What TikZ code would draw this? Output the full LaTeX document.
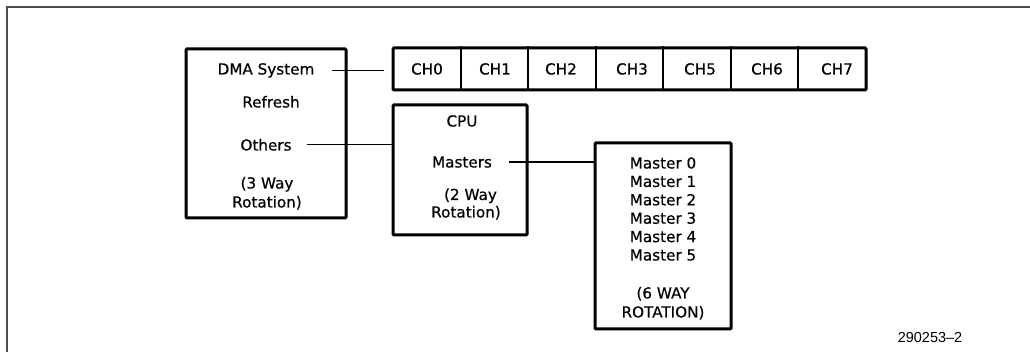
\documentclass[tikz,border=0pt]{standalone}
\usepackage{fontspec}
\setmainfont{DejaVu Sans}
\newfontfamily\diagfont[FakeBold=0.5]{DejaVu Sans}
\newfontfamily\labelfont{Liberation Sans}
\begin{document}
\begin{tikzpicture}[x=1pt,y=-1pt,
  box/.style={draw, line width=3pt, rounded corners=1pt, inner sep=0pt},
  txt/.style={font=\diagfont\fontsize{15.2}{18.5}\selectfont, inner sep=0pt, align=center, anchor=base},
  wire/.style={line width=1.2pt},
  divider/.style={line width=1.6pt},
  frameline/.style={line width=2pt, draw=black!70}]
\useasboundingbox (0,0) rectangle (1030,352);
\draw[frameline] (7,352) -- (7,7) -- (1030,7);

% boxes
\node[box, minimum width=160, minimum height=169] (dma) at (266,133.5) {};
\node[box, minimum width=473, minimum height=42] (chbox) at (629.5,69) {};
\node[box, minimum width=134, minimum height=130] (cpu) at (460,170) {};
\node[box, minimum width=136, minimum height=186] (mbox) at (663,236) {};

% channel dividers
\foreach \x in {461,528,596,663,731,798}
  \draw[divider] (\x,0 |- chbox.north) -- (\x,0 |- chbox.south);

% channel labels
\foreach \x/\t [count=\i] in {427/CH0,495/CH1,561/CH2,632/CH3,700/CH5,767/CH6,837/CH7}
  \node[txt] (ch\i) at (\x,74.5) {\t};

% DMA texts (base anchor = baseline of the last line)
\node[txt] (dmatxt) at (266,74.5) {DMA System};
\node[txt] (refresh) at (271,107.5) {Refresh};
\node[txt] (others) at (266,150.5) {Others};
\node[txt, font=\diagfont\fontsize{15.2}{19}\selectfont] (dmarot) at (267,207.5) {(3 Way\\Rotation)};

% CPU texts
\node[txt] (cputxt) at (462,126.5) {CPU};
\node[txt] (masters) at (462,167.5) {Masters};
\node[txt, font=\diagfont\fontsize{15.2}{17.5}\selectfont] (cpurot) at (466,217.5) {\hspace*{9pt}(2 Way\\Rotation)};

% Masters texts
\node[txt, font=\diagfont\fontsize{15.2}{18.4}\selectfont] (mlist) at (663,260.5) {Master 0\\Master 1\\Master 2\\Master 3\\Master 4\\Master 5};
\node[txt, font=\diagfont\fontsize{15.2}{19}\selectfont] (mrot) at (663,317.5) {(6 WAY\\ROTATION)};

% connectors
\draw[wire, shorten >=8pt] ([xshift=17pt]dmatxt.east) -- (dmatxt.east -| chbox.west);
\draw[wire] ([xshift=15pt]others.east) -- (others.east -| cpu.west);
\draw[wire] ([xshift=17pt]masters.east) -- (masters.east -| mbox.west);

% figure number
\node[font=\labelfont\fontsize{14.5}{16}\selectfont, inner sep=0pt, anchor=base] (fignum) at (930,342) {290253–2};
\end{tikzpicture}
\end{document}
